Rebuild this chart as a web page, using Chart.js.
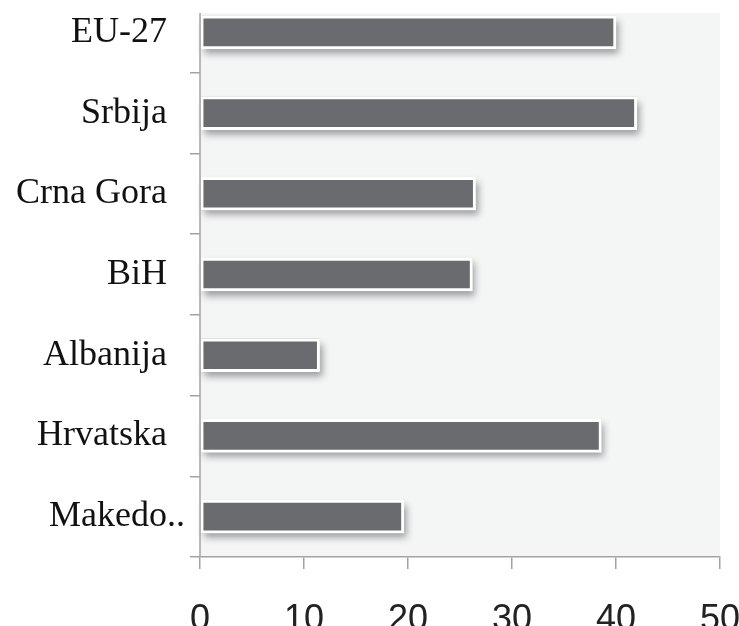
<!DOCTYPE html>
<html>
<head>
<meta charset="utf-8">
<script src="https://cdn.jsdelivr.net/npm/chart.js@4.4.1/dist/chart.umd.min.js"></script>
<style>
    html, body { margin: 0; padding: 0; background: #ffffff; overflow: hidden; }
    #chart { display: block; margin-top: -8px; }
</style>
</head>
<body>
<canvas id="chart" width="739" height="634"></canvas>
<script>
// Categories (top to bottom) and their values
const countries = ['EU-27\u00a0\u00a0', 'Srbija\u00a0\u00a0', 'Crna Gora\u00a0\u00a0', 'BiH\u00a0\u00a0', 'Albanija\u00a0\u00a0', 'Hrvatska\u00a0\u00a0', 'Makedo..'];
const values = [40.0, 42.0, 26.5, 26.2, 11.5, 38.6, 19.6];

// x axis ticks
const xMin = 0;
const xMax = 50;
const xStep = 10;

const barColor = '#6a6b6f';
const axisColor = '#a3a3a3';
const plotBg = '#f4f5f5';

// plot background + left axis line (starts a bit below the top of the canvas)
const plotFrame = {
    id: 'plotFrame',
    beforeDraw(chart) {
        const { ctx, chartArea } = chart;
        const top = chartArea.top + 21;
        ctx.save();
        ctx.fillStyle = plotBg;
        ctx.fillRect(chartArea.left, top, chartArea.right - chartArea.left, chartArea.bottom - top);
        ctx.restore();
    },
    afterDraw(chart) {
        const { ctx, chartArea } = chart;
        ctx.save();
        ctx.strokeStyle = axisColor;
        ctx.lineWidth = 1.5;
        ctx.beginPath();
        ctx.moveTo(chartArea.left, chartArea.top + 21);
        ctx.lineTo(chartArea.left, chartArea.bottom);
        ctx.stroke();
        ctx.restore();
    }
};

// soft drop shadow under each bar
const barShadow = {
    id: 'barShadow',
    beforeDatasetsDraw(chart) {
        const { ctx } = chart;
        const meta = chart.getDatasetMeta(0);
        ctx.save();
        ctx.shadowColor = 'rgba(50, 50, 55, 0.45)';
        ctx.shadowBlur = 7;
        ctx.shadowOffsetX = 3;
        ctx.shadowOffsetY = 5;
        ctx.fillStyle = '#9a9a9a';
        meta.data.forEach(bar => {
            const { x, y, base, height } = bar.getProps(['x', 'y', 'base', 'height'], true);
            ctx.fillRect(base, y - height / 2, x - base, height);
        });
        ctx.restore();
    }
};

new Chart(document.getElementById('chart'), {
    type: 'bar',
    data: {
        labels: countries,
        datasets: [{
            data: values,
            backgroundColor: barColor,
            borderColor: '#ffffff',
            borderWidth: 3,
            borderSkipped: false,
            barThickness: 33
        }]
    },
    options: {
        indexAxis: 'y',
        responsive: false,
        animation: false,
        layout: {
            padding: { left: 0, right: 19, top: 0, bottom: 0 }
        },
        plugins: {
            legend: { display: false },
            tooltip: { enabled: false }
        },
        scales: {
            x: {
                min: xMin,
                max: xMax,
                afterFit(scale) {
                    scale.height = 69;
                    scale.paddingLeft = 0;
                    scale.paddingRight = 0;
                },
                ticks: {
                    stepSize: xStep,
                    color: '#222222',
                    padding: 29,
                    font: { family: "'Liberation Sans Narrow', 'Liberation Sans'", size: 36 }
                },
                grid: {
                    drawOnChartArea: false,
                    drawTicks: true,
                    tickLength: 12,
                    color: axisColor,
                    lineWidth: 1.5
                },
                border: { display: true, color: axisColor, width: 1.5 }
            },
            y: {
                afterFit(scale) {
                    scale.width = 200;
                    scale.paddingTop = 0;
                    scale.paddingBottom = 0;
                },
                ticks: {
                    color: '#111111',
                    padding: 5,
                    font: { family: 'Liberation Serif', size: 36 }
                },
                grid: {
                    drawOnChartArea: false,
                    drawTicks: true,
                    tickLength: 10,
                    color: axisColor,
                    lineWidth: 1.5
                },
                border: { display: false }
            }
        }
    },
    plugins: [plotFrame, barShadow]
});
</script>
</body>
</html>
